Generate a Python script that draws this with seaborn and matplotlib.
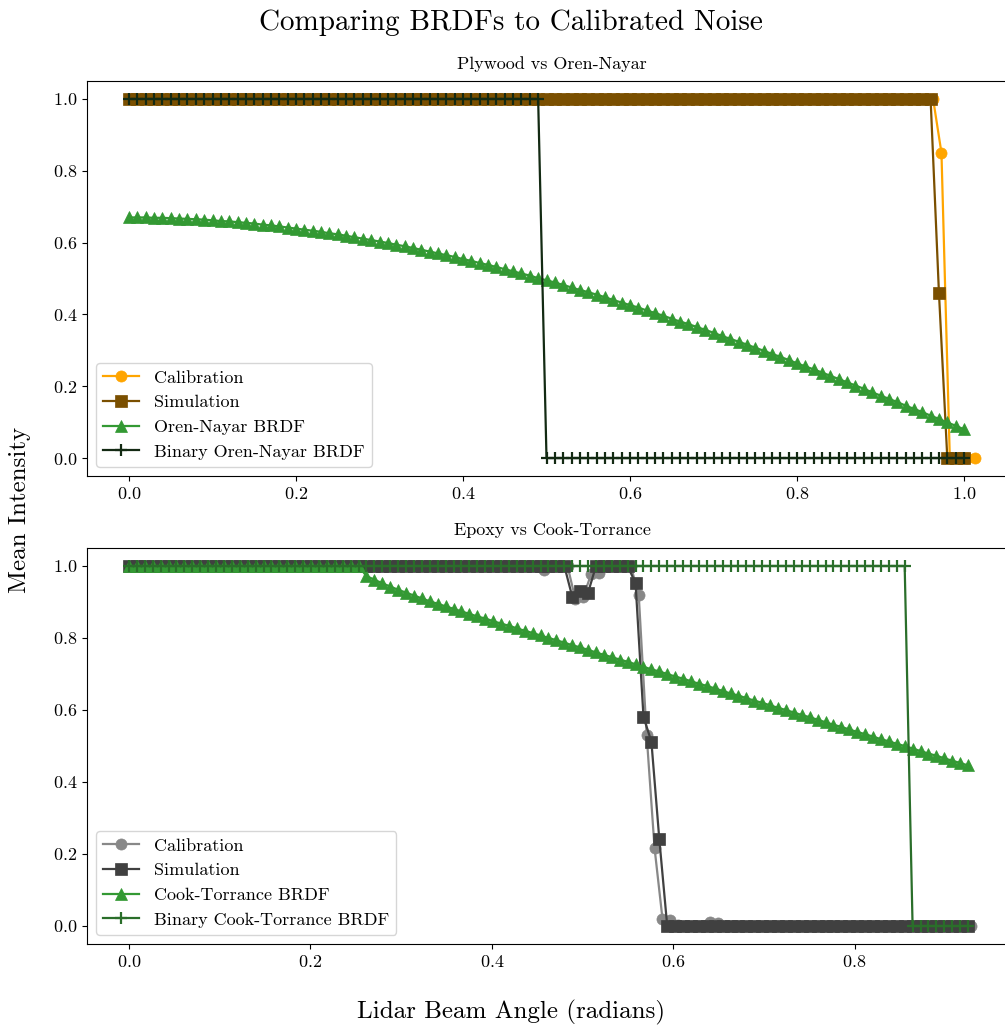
import numpy as np
import pandas as pd
import matplotlib
matplotlib.use("Agg")
import matplotlib.pyplot as plt
import seaborn as sns

plt.rcParams.update({
    "font.family": "serif",
    "font.serif": ["cmr10", "DejaVu Serif"],
    "mathtext.fontset": "cm",
    "axes.formatter.use_mathtext": True,
    "axes.unicode_minus": False,
})

# ---------------- data: top panel (Plywood vs Oren-Nayar) ----------------
top_step = 0.01
top_x = np.round(np.arange(101) * top_step, 3)            # 0.00 .. 1.00 rad
top_cal_x = np.round(np.arange(102) * top_step + 0.003, 4)  # 0.003 .. 1.013 rad

top_calibration = [1.0] * 97 + [0.85] + [0.0] * 4
top_simulation = [1.0] * 97 + [0.46] + [0.0] * 3
top_binary = [1.0] * 50 + [0.0] * 51
top_oren_nayar = [
    0.670, 0.670, 0.670, 0.669, 0.669, 0.668, 0.667, 0.666, 0.665, 0.664,
    0.662, 0.660, 0.659, 0.657, 0.655, 0.653, 0.650, 0.648, 0.645, 0.642,
    0.639, 0.636, 0.633, 0.630, 0.626, 0.623, 0.619, 0.615, 0.611, 0.607,
    0.603, 0.599, 0.594, 0.590, 0.585, 0.580, 0.575, 0.570, 0.565, 0.560,
    0.554, 0.549, 0.543, 0.538, 0.532, 0.526, 0.520, 0.514, 0.508, 0.501,
    0.495, 0.489, 0.482, 0.475, 0.468, 0.462, 0.455, 0.448, 0.440, 0.433,
    0.426, 0.419, 0.411, 0.404, 0.396, 0.388, 0.380, 0.373, 0.365, 0.357,
    0.349, 0.340, 0.332, 0.324, 0.316, 0.307, 0.299, 0.290, 0.282, 0.273,
    0.264, 0.255, 0.247, 0.238, 0.229, 0.220, 0.211, 0.202, 0.193, 0.183,
    0.174, 0.165, 0.156, 0.146, 0.137, 0.128, 0.118, 0.109, 0.099, 0.090,
    0.080,
]

# ---------------- data: bottom panel (Epoxy vs Cook-Torrance) ----------------
bot_deg = np.arange(107) * 0.5                 # 0 .. 53 degrees
bot_x = np.deg2rad(bot_deg)
bot_cal_x = bot_x + 0.0035

bot_calibration = ([1.0] * 52 + [0.988] + [1.0] * 3 +
                   [0.907, 0.915, 0.978, 0.980] + [1.0] * 4 +
                   [0.919, 0.530, 0.216, 0.020, 0.018, 0.004] + [0.0] * 3 +
                   [0.010, 0.009] + [0.0] * 32)
bot_simulation = ([1.0] * 56 + [0.915, 0.931, 0.926] + [1.0] * 5 +
                  [0.952, 0.581, 0.512, 0.241] + [0.0] * 39)
bot_binary = [1.0] * 99 + [0.0] * 8
bot_cook_torrance = [1.0] * 30 + [
    0.972, 0.962, 0.952, 0.943, 0.934, 0.926, 0.918, 0.910, 0.902, 0.895,
    0.888, 0.881, 0.874, 0.867, 0.860, 0.854, 0.847,
    0.840, 0.834, 0.827, 0.820, 0.814, 0.807, 0.800, 0.794, 0.787, 0.780,
    0.774, 0.767, 0.760, 0.753, 0.747, 0.740, 0.734, 0.727, 0.720, 0.713,
    0.707, 0.700, 0.693, 0.687, 0.680, 0.673, 0.667, 0.660, 0.653, 0.646,
    0.640, 0.633, 0.626, 0.620, 0.613, 0.606, 0.600, 0.593, 0.586, 0.580,
    0.573, 0.566, 0.559, 0.553, 0.546, 0.539, 0.533, 0.526, 0.519, 0.513,
    0.506, 0.500, 0.493, 0.486, 0.479, 0.473, 0.466, 0.459, 0.453, 0.446,
]

# ---------------- figure ----------------
W, H = 1005, 1025
fig = plt.figure(figsize=(W / 100, H / 100), dpi=100)


def px_axes(left, top, right, bottom):
    return fig.add_axes([left / W, 1 - bottom / H, (right - left) / W, (bottom - top) / H])


ax1 = px_axes(87, 81, 1017, 476)
ax2 = px_axes(87, 548, 1017, 944)


def draw(ax, x, y, color, marker, label, ms=8, lw=1.6, mew=0.5):
    sns.lineplot(x=np.asarray(x), y=np.asarray(y), ax=ax, color=color, marker=marker,
                 markersize=ms, linewidth=lw, markeredgecolor=color,
                 markeredgewidth=mew, label=label, sort=False, estimator=None,
                 errorbar=None)


draw(ax1, top_cal_x, top_calibration, "#ffa500", "o", "Calibration")
draw(ax1, top_x, top_simulation, "#7a4f00", "s", "Simulation")
draw(ax1, top_x, top_oren_nayar, "#339933", "^", "Oren-Nayar BRDF")
draw(ax1, top_x, top_binary, "#132a13", "+", "Binary Oren-Nayar BRDF", ms=9, mew=1.6)

draw(ax2, bot_cal_x, bot_calibration, "#888888", "o", "Calibration")
draw(ax2, bot_x, bot_simulation, "#404040", "s", "Simulation")
draw(ax2, bot_x, bot_cook_torrance, "#339933", "^", "Cook-Torrance BRDF")
draw(ax2, bot_x, bot_binary, "#2a6e2a", "+", "Binary Cook-Torrance BRDF", ms=9, mew=1.6)

ax1.set_xlim(-42 / 835, 888 / 835)
ax2.set_xlim(-42 / 907, 888 / 907)
for ax, title in ((ax1, "Plywood vs Oren-Nayar"), (ax2, "Epoxy vs Cook-Torrance")):
    ax.set_ylim(-0.05, 1.05)
    ax.set_xlabel("")
    ax.set_ylabel("")
    ax.set_title(title, fontsize=13, pad=9)
    ax.tick_params(labelsize=13)
    ax.legend(loc="lower left", fontsize=13)

fig.text(511 / W, 1 - 23 / H, "Comparing BRDFs to Calibrated Noise",
         ha="center", va="center", fontsize=21)
fig.text(20 / W, 1 - 510 / H, "Mean Intensity", ha="center", va="center",
         rotation=90, fontsize=18)
fig.text(511 / W, 1 - 1012 / H, "Lidar Beam Angle (radians)", ha="center",
         va="center", fontsize=18)

fig.savefig("out.png", dpi=100)
